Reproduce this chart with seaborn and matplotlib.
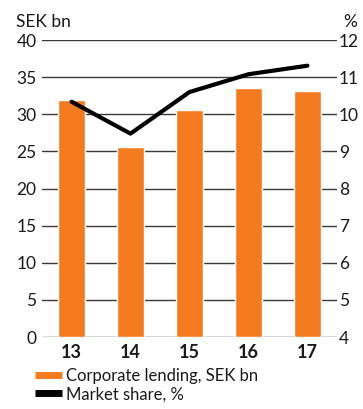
import matplotlib
matplotlib.use("Agg")
import matplotlib.pyplot as plt
from matplotlib.lines import Line2D
import seaborn as sns
import pandas as pd

years = ["13", "14", "15", "16", "17"]
lending = [31.9, 25.6, 30.6, 33.5, 33.2]
market_share = [10.34, 9.48, 10.6, 11.08, 11.31]
left_ticks = [0, 5, 10, 15, 20, 25, 30, 35, 40]
right_ticks = [4, 5, 6, 7, 8, 9, 10, 11, 12]

ORANGE = "#F47B20"
GRID = "#3a3a3a"

sns.set_theme(style="white")
plt.rcParams["font.family"] = ["Lato", "DejaVu Sans"]

df = pd.DataFrame({"year": years, "lending": lending, "share": market_share})

fig = plt.figure(figsize=(3.63, 4.09), dpi=100)
ax = fig.add_axes([0.1157, 0.176, 0.8125, 0.726])

sns.barplot(data=df, x="year", y="lending", color=ORANGE, width=0.46,
            saturation=1, ax=ax, zorder=3)
ax.set_xlim(-0.5, 4.5)
ax.set_ylim(0, 40)
ax.set_yticks(left_ticks)
ax.yaxis.grid(True, color=GRID, linewidth=1.0, zorder=0)
ax.set_axisbelow(True)
for s in ax.spines.values():
    s.set_visible(False)
ax.set_xlabel("")
ax.set_ylabel("")
ax.tick_params(axis="y", length=0, pad=4, labelsize=12.5, labelcolor="#1a1a1a")
ax.tick_params(axis="x", length=0, pad=5, labelsize=13)
for lbl in ax.get_xticklabels():
    lbl.set_fontweight("bold")
    lbl.set_color("#1a1a1a")

ax2 = ax.twinx()
sns.lineplot(x=list(range(len(years))), y=market_share, color="black",
             linewidth=3.0, ax=ax2, zorder=5)
ax2.set_ylim(4, 12)
ax2.set_yticks(right_ticks)
ax2.set_xlim(-0.5, 4.5)
for s in ax2.spines.values():
    s.set_visible(False)
ax2.tick_params(axis="y", length=0, pad=1.5, labelsize=12.5, labelcolor="#1a1a1a")
ax2.set_ylabel("")
ax2.grid(False)

fig.text(0.045, 0.945, "SEK bn", fontsize=12.5, color="#1a1a1a", va="center")
fig.text(0.945, 0.945, "%", fontsize=12.5, color="#1a1a1a", va="center")

handles = [
    Line2D([0], [0], color=ORANGE, linewidth=5, solid_capstyle="butt"),
    Line2D([0], [0], color="black", linewidth=5, solid_capstyle="butt"),
]
fig.legend(handles, ["Corporate lending, SEK bn", "Market share, %"],
           loc="lower left", bbox_to_anchor=(0.065, -0.012), frameon=False,
           fontsize=12, handlelength=1.6, handletextpad=0.25,
           labelspacing=0.15, borderpad=0.2, labelcolor="#1a1a1a")

fig.savefig("out.png", dpi=100)
